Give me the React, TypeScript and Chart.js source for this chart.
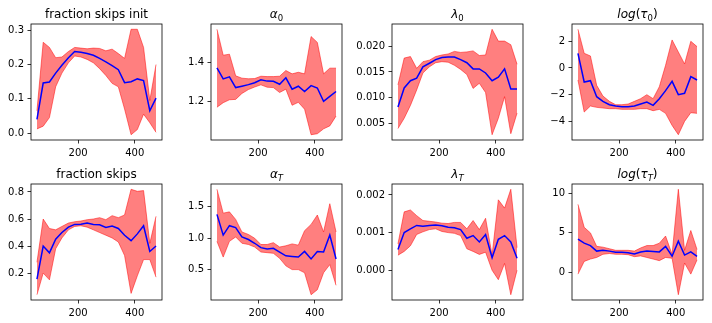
import React, { useEffect, useRef } from "react";
import { Chart, registerables } from "chart.js";

Chart.register(...registerables);

// ---------------- data ----------------
const xValues = [55, 77, 99, 121, 143, 166, 188, 210, 232, 254, 276, 298, 320, 342, 364, 387, 409, 431, 453, 475];
const xTickValues = [200, 400];
const xTickLabels = ["200", "400"];

const fracInitMean = [0.040, 0.146, 0.149, 0.175, 0.198, 0.220, 0.238, 0.236, 0.232, 0.227, 0.218, 0.208, 0.197, 0.185, 0.147, 0.150, 0.158, 0.153, 0.065, 0.102];
const fracInitUpper = [0.065, 0.265, 0.250, 0.220, 0.222, 0.238, 0.250, 0.248, 0.246, 0.248, 0.247, 0.240, 0.245, 0.232, 0.218, 0.303, 0.303, 0.250, 0.095, 0.200];
const fracInitLower = [0.012, 0.020, 0.045, 0.135, 0.175, 0.205, 0.225, 0.222, 0.215, 0.205, 0.188, 0.168, 0.145, 0.135, 0.070, -0.005, 0.010, 0.055, 0.030, 0.002];
const fracInitTicks = [0, 0.1, 0.2, 0.3];
const fracInitTickLabels = ["0.0", "0.1", "0.2", "0.3"];

const alpha0Mean = [1.370, 1.314, 1.325, 1.270, 1.277, 1.285, 1.295, 1.310, 1.303, 1.302, 1.287, 1.320, 1.262, 1.277, 1.250, 1.280, 1.268, 1.200, 1.225, 1.250];
const alpha0Upper = [1.567, 1.435, 1.440, 1.330, 1.318, 1.315, 1.316, 1.328, 1.326, 1.326, 1.328, 1.357, 1.340, 1.348, 1.340, 1.530, 1.500, 1.340, 1.369, 1.369];
const alpha0Lower = [1.170, 1.193, 1.208, 1.210, 1.240, 1.260, 1.273, 1.284, 1.272, 1.270, 1.245, 1.262, 1.180, 1.195, 1.160, 1.030, 1.035, 1.060, 1.075, 1.125];
const alpha0Ticks = [1.2, 1.4];
const alpha0TickLabels = ["1.2", "1.4"];

const lambda0Mean = [0.0082, 0.0119, 0.0133, 0.0138, 0.0160, 0.0167, 0.0174, 0.0178, 0.0179, 0.0179, 0.0174, 0.0168, 0.0156, 0.0156, 0.0148, 0.0133, 0.0140, 0.0156, 0.0117, 0.0117];
const lambda0Upper = [0.0125, 0.0177, 0.0180, 0.0157, 0.0170, 0.0173, 0.0180, 0.0183, 0.0185, 0.0190, 0.0188, 0.0189, 0.0191, 0.0182, 0.0183, 0.0233, 0.0210, 0.0210, 0.0203, 0.0165];
const lambda0Lower = [0.0040, 0.0060, 0.0085, 0.0115, 0.0148, 0.0160, 0.0168, 0.0170, 0.0169, 0.0163, 0.0155, 0.0145, 0.0118, 0.0128, 0.0110, 0.0028, 0.0060, 0.0102, 0.0030, 0.0070];
const lambda0Ticks = [0.005, 0.010, 0.015, 0.020];
const lambda0TickLabels = ["0.005", "0.010", "0.015", "0.020"];

const logTau0Mean = [1.10, -1.05, -0.95, -2.15, -2.50, -2.75, -2.85, -2.90, -2.90, -2.85, -2.70, -2.55, -2.80, -2.30, -1.70, -1.00, -2.00, -1.90, -0.65, -0.90];
const logTau0Upper = [2.90, 1.10, 0.90, -1.30, -2.10, -2.50, -2.75, -2.75, -2.70, -2.50, -2.30, -2.00, -2.30, -1.40, 0.20, 2.10, 1.20, 0.30, 2.00, 1.60];
const logTau0Lower = [-0.90, -3.30, -2.85, -2.95, -3.00, -3.05, -3.05, -3.10, -3.10, -3.10, -3.05, -3.05, -3.20, -3.10, -3.40, -4.30, -5.00, -4.00, -3.35, -3.40];
const logTau0Ticks = [-4, -2, 0, 2];
const logTau0TickLabels = ["\u22124", "\u22122", "0", "2"];

const fracSkipsMean = [0.155, 0.400, 0.350, 0.450, 0.500, 0.540, 0.560, 0.562, 0.570, 0.560, 0.558, 0.538, 0.548, 0.530, 0.480, 0.440, 0.490, 0.550, 0.360, 0.400];
const fracSkipsUpper = [0.280, 0.600, 0.530, 0.520, 0.545, 0.570, 0.580, 0.585, 0.595, 0.600, 0.610, 0.595, 0.625, 0.610, 0.630, 0.820, 0.805, 0.810, 0.420, 0.620];
const fracSkipsLower = [0.040, 0.200, 0.150, 0.380, 0.460, 0.520, 0.545, 0.550, 0.540, 0.520, 0.500, 0.480, 0.460, 0.430, 0.330, 0.050, 0.180, 0.300, 0.300, 0.170];
const fracSkipsTicks = [0.2, 0.4, 0.6, 0.8];
const fracSkipsTickLabels = ["0.2", "0.4", "0.6", "0.8"];

const alphaTMean = [1.38, 1.05, 1.20, 1.17, 1.02, 0.98, 0.92, 0.85, 0.83, 0.84, 0.78, 0.72, 0.71, 0.70, 0.79, 0.67, 0.79, 0.78, 1.05, 0.67];
const alphaTUpper = [1.78, 1.40, 1.42, 1.30, 1.10, 1.06, 1.00, 0.90, 0.90, 0.93, 0.86, 0.88, 0.91, 0.89, 1.12, 1.22, 1.37, 1.10, 1.55, 1.10];
const alphaTLower = [0.95, 0.70, 0.95, 1.02, 0.92, 0.90, 0.86, 0.78, 0.77, 0.76, 0.68, 0.56, 0.50, 0.50, 0.45, 0.10, 0.18, 0.45, 0.58, 0.25];
const alphaTTicks = [0.5, 1.0, 1.5];
const alphaTTickLabels = ["0.5", "1.0", "1.5"];

const lambdaTMean = [0.00055, 0.00100, 0.00110, 0.00119, 0.00117, 0.00119, 0.00120, 0.00118, 0.00114, 0.00113, 0.00108, 0.00085, 0.00092, 0.00075, 0.00095, 0.00033, 0.00082, 0.00092, 0.00075, 0.00032];
const lambdaTUpper = [0.00070, 0.00155, 0.00160, 0.00145, 0.00132, 0.00130, 0.00128, 0.00125, 0.00124, 0.00127, 0.00127, 0.00110, 0.00132, 0.00108, 0.00138, 0.00040, 0.00187, 0.00165, 0.00215, 0.00060];
const lambdaTLower = [0.00040, 0.00050, 0.00065, 0.00095, 0.00102, 0.00108, 0.00110, 0.00103, 0.00100, 0.00098, 0.00092, 0.00057, 0.00050, 0.00042, 0.00048, 0.00000, -0.00025, 0.00018, -0.00065, 0.00000];
const lambdaTTicks = [0, 0.001, 0.002];
const lambdaTTickLabels = ["0.000", "0.001", "0.002"];

const logTauTMean = [4.20, 3.70, 3.40, 2.70, 2.80, 2.70, 2.55, 2.55, 2.50, 2.35, 2.60, 2.70, 2.65, 2.60, 3.30, 2.05, 3.95, 2.20, 2.60, 2.05];
const logTauTUpper = [8.60, 5.70, 5.00, 3.30, 3.20, 3.00, 2.80, 2.80, 2.80, 2.70, 3.10, 3.40, 3.40, 3.70, 4.60, 2.30, 10.50, 2.80, 5.30, 2.90];
const logTauTLower = [-0.20, 1.40, 1.70, 1.90, 2.30, 2.40, 2.30, 2.30, 2.25, 2.00, 2.10, 1.90, 1.70, 1.50, 1.90, 1.80, -2.80, 1.20, -0.20, 1.60];
const logTauTTicks = [0, 5, 10];
const logTauTTickLabels = ["0", "5", "10"];

type Part = { t: string; it?: boolean; sub?: boolean };

const titleFracInit: Part[] = [{ t: "fraction skips init" }];
const titleAlpha0: Part[] = [{ t: "α", it: true }, { t: "0", sub: true }];
const titleLambda0: Part[] = [{ t: "λ", it: true }, { t: "0", sub: true }];
const titleLogTau0: Part[] = [{ t: "log", it: true }, { t: "(" }, { t: "τ", it: true }, { t: "0", sub: true }, { t: ")" }];
const titleFracSkips: Part[] = [{ t: "fraction skips" }];
const titleAlphaT: Part[] = [{ t: "α", it: true }, { t: "T", sub: true, it: true }];
const titleLambdaT: Part[] = [{ t: "λ", it: true }, { t: "T", sub: true, it: true }];
const titleLogTauT: Part[] = [{ t: "log", it: true }, { t: "(" }, { t: "τ", it: true }, { t: "T", sub: true, it: true }, { t: ")" }];

interface PanelSpec {
  title: Part[];
  mean: number[];
  upper: number[];
  lower: number[];
  ticks: number[];
  labels: string[];
}

const panels: PanelSpec[] = [
  { title: titleFracInit, mean: fracInitMean, upper: fracInitUpper, lower: fracInitLower, ticks: fracInitTicks, labels: fracInitTickLabels },
  { title: titleAlpha0, mean: alpha0Mean, upper: alpha0Upper, lower: alpha0Lower, ticks: alpha0Ticks, labels: alpha0TickLabels },
  { title: titleLambda0, mean: lambda0Mean, upper: lambda0Upper, lower: lambda0Lower, ticks: lambda0Ticks, labels: lambda0TickLabels },
  { title: titleLogTau0, mean: logTau0Mean, upper: logTau0Upper, lower: logTau0Lower, ticks: logTau0Ticks, labels: logTau0TickLabels },
  { title: titleFracSkips, mean: fracSkipsMean, upper: fracSkipsUpper, lower: fracSkipsLower, ticks: fracSkipsTicks, labels: fracSkipsTickLabels },
  { title: titleAlphaT, mean: alphaTMean, upper: alphaTUpper, lower: alphaTLower, ticks: alphaTTicks, labels: alphaTTickLabels },
  { title: titleLambdaT, mean: lambdaTMean, upper: lambdaTUpper, lower: lambdaTLower, ticks: lambdaTTicks, labels: lambdaTTickLabels },
  { title: titleLogTauT, mean: logTauTMean, upper: logTauTUpper, lower: logTauTLower, ticks: logTauTTicks, labels: logTauTTickLabels },
];

// ---------------- layout ----------------
const FONT = '"DejaVu Sans", sans-serif';
const Y_AXIS_W = 40;
const X_AXIS_H = 22;
const TOP_PAD = 24;
const RIGHT_PAD = 6;
const PLOT_W = 131;
const PLOT_H = 116;
const CANVAS_W = Y_AXIS_W + PLOT_W + RIGHT_PAD;
const CANVAS_H = TOP_PAD + PLOT_H + X_AXIS_H;
const colLefts = [31, 211, 392, 572];
const rowTops = [24, 184];

function Panel({ spec, left, top }: { spec: PanelSpec; left: number; top: number }) {
  const ref = useRef<HTMLCanvasElement>(null);
  useEffect(() => {
    const canvas = ref.current!;
    const xMinD = Math.min(...xValues);
    const xMaxD = Math.max(...xValues);
    const xPad = (xMaxD - xMinD) * 0.05;
    const yLo = Math.min(...spec.lower, ...spec.mean);
    const yHi = Math.max(...spec.upper, ...spec.mean);
    const yPad = (yHi - yLo) * 0.05;

    const toPts = (arr: number[]) => xValues.map((x, i) => ({ x, y: arr[i] }));

    const framePlugin = {
      id: "frame",
      afterDraw(chart: any) {
        const { ctx, chartArea } = chart;
        ctx.save();
        ctx.strokeStyle = "#000";
        ctx.lineWidth = 0.8;
        ctx.strokeRect(chartArea.left, chartArea.top, chartArea.right - chartArea.left, chartArea.bottom - chartArea.top);
        ctx.restore();
      },
    };

    const titlePlugin = {
      id: "mtitle",
      afterDraw(chart: any) {
        const { ctx, chartArea } = chart;
        const base = 12;
        const subSize = 8.5;
        const fontFor = (p: Part) => `${p.it ? "italic " : ""}${p.sub ? subSize : base}px ${FONT}`;
        ctx.save();
        ctx.fillStyle = "#000";
        ctx.textBaseline = "alphabetic";
        ctx.textAlign = "left";
        let total = 0;
        const widths = spec.title.map((p) => {
          ctx.font = fontFor(p);
          const w = ctx.measureText(p.t).width;
          total += w;
          return w;
        });
        let x = (chartArea.left + chartArea.right) / 2 - total / 2;
        const baseline = chartArea.top - 6;
        spec.title.forEach((p, i) => {
          ctx.font = fontFor(p);
          ctx.fillText(p.t, x, p.sub ? baseline + 2.5 : baseline);
          x += widths[i];
        });
        ctx.restore();
      },
    };

    const chart = new Chart(canvas, {
      type: "line",
      data: {
        datasets: [
          {
            data: toPts(spec.mean),
            borderColor: "#0000ff",
            borderWidth: 1.5,
            pointRadius: 0,
            fill: false,
            tension: 0,
          },
          {
            data: toPts(spec.upper),
            borderColor: "rgba(255,0,0,0.5)",
            borderWidth: 1,
            backgroundColor: "rgba(255,0,0,0.5)",
            pointRadius: 0,
            fill: "+1",
            tension: 0,
          },
          {
            data: toPts(spec.lower),
            borderColor: "rgba(255,0,0,0.5)",
            borderWidth: 1,
            backgroundColor: "rgba(255,0,0,0.5)",
            pointRadius: 0,
            fill: false,
            tension: 0,
          },
        ],
      },
      options: {
        animation: false,
        responsive: false,
        devicePixelRatio: 1,
        layout: { padding: { top: TOP_PAD, right: RIGHT_PAD, left: 0, bottom: 0 } },
        plugins: { legend: { display: false }, tooltip: { enabled: false }, title: { display: false } },
        scales: {
          x: {
            type: "linear",
            min: xMinD - xPad,
            max: xMaxD + xPad,
            afterBuildTicks: (scale: any) => {
              scale.ticks = xTickValues.map((v) => ({ value: v }));
            },
            afterFit: (scale: any) => {
              scale.height = X_AXIS_H;
            },
            ticks: {
              callback: (_v: any, i: number) => xTickLabels[i],
              font: { family: FONT, size: 10 },
              color: "#000",
              padding: 3.5,
              maxRotation: 0,
              autoSkip: false,
            },
            grid: { drawOnChartArea: false, drawTicks: true, tickLength: 3.5, color: "#000", tickWidth: 0.8 },
            border: { display: false },
          },
          y: {
            type: "linear",
            min: yLo - yPad,
            max: yHi + yPad,
            afterBuildTicks: (scale: any) => {
              scale.ticks = spec.ticks.map((v) => ({ value: v }));
            },
            afterFit: (scale: any) => {
              scale.width = Y_AXIS_W;
            },
            ticks: {
              callback: (_v: any, i: number) => spec.labels[i],
              font: { family: FONT, size: 10 },
              color: "#000",
              padding: 3.5,
              autoSkip: false,
            },
            grid: { drawOnChartArea: false, drawTicks: true, tickLength: 3.5, color: "#000", tickWidth: 0.8 },
            border: { display: false },
          },
        },
      } as any,
      plugins: [framePlugin, titlePlugin],
    });
    return () => chart.destroy();
  }, [spec]);

  return (
    <canvas
      ref={ref}
      width={CANVAS_W}
      height={CANVAS_H}
      style={{ position: "absolute", left, top, width: CANVAS_W, height: CANVAS_H }}
    />
  );
}

export default function App() {
  return (
    <div style={{ position: "absolute", left: 0, top: 0, width: 712, height: 323, background: "#fff", overflow: "hidden" }}>
      {panels.map((spec, i) => (
        <Panel
          key={i}
          spec={spec}
          left={colLefts[i % 4] - Y_AXIS_W}
          top={rowTops[Math.floor(i / 4)] - TOP_PAD}
        />
      ))}
    </div>
  );
}
